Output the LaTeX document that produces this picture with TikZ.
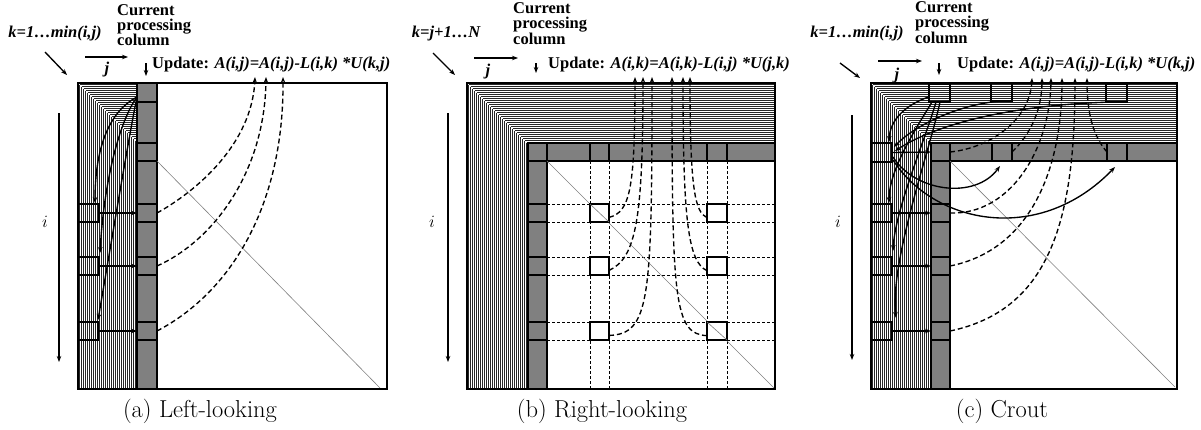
\documentclass[tikz,border=0pt]{standalone}
\usepackage{fontspec}
\newfontfamily\tnr{Liberation Serif}
\usetikzlibrary{arrows.meta}
\definecolor{cellgray}{RGB}{128,128,128}
\begin{document}
\begin{tikzpicture}[x=1pt,y=-1pt,
  hatch/.style={line width=0.6pt, black!85},
  frame/.style={draw, line width=1.8pt},
  gband/.style={fill=cellgray, draw, line width=1.2pt},
  cell/.style={draw, line width=1.2pt, inner sep=0pt, outer sep=0pt, anchor=north west},
  gcell/.style={cell, fill=cellgray},
  wcell/.style={cell, fill=white},
  diagl/.style={draw=gray, line width=0.6pt},
  arr/.style={-{Stealth[length=6pt,width=4.5pt]}, line width=1.35pt},
  darr/.style={arr, dash pattern=on 5pt off 3pt},
  gridl/.style={line width=0.6pt, dash pattern=on 3pt off 2pt},
  bilbl/.style={font=\tnr\bfseries\itshape\fontsize{16.5}{16}\selectfont, inner sep=0pt, anchor=base},
  blbl/.style={font=\tnr\bfseries\fontsize{16.5}{16}\selectfont, inner sep=0pt, anchor=base west},
  ilbl/.style={font=\fontsize{18}{18}\selectfont, inner sep=0pt},
  capt/.style={font=\fontsize{24.5}{26}\selectfont, inner sep=0pt, anchor=base},
]
\useasboundingbox (0,0) rectangle (1201,429);

%================ (a) Left-looking =================
\foreach \y in {84.5,86.5,...,141.5} \draw[hatch] ({78+\y-83},\y) -- (137,\y);
\foreach \x in {79.5,81.5,...,136.5} \draw[hatch] (\x,{83+\x-78}) -- (\x,389);
\draw[gband] (137,83) rectangle (157,389);
\node[gcell, minimum width=20pt, minimum height=19pt] (acol0) at (137,83) {};
\node[gcell, minimum width=20pt, minimum height=18pt] (acold) at (137,143) {};
\node[gcell, minimum width=20pt, minimum height=18pt] (acol1) at (137,204) {};
\node[gcell, minimum width=20pt, minimum height=18pt] (acol2) at (137,257) {};
\node[gcell, minimum width=20pt, minimum height=18pt] (acol3) at (137,322) {};
\node[cell, minimum width=21pt, minimum height=18pt] (al1) at (78,204) {};
\node[cell, minimum width=21pt, minimum height=18pt] (al2) at (78,257) {};
\node[cell, minimum width=20pt, minimum height=18pt] (al3) at (78,322) {};
\coordinate (aend) at (380,388);
\draw[diagl] (acold.south east) -- (aend);
\draw[frame] (78,83) rectangle (387,389);
% solid arrows
\coordinate (as) at (137,97);
\coordinate (at1) at (95,203);
\coordinate (at2) at (100,253);
\coordinate (at3) at (98,320);
\draw[arr] (as) .. controls (108,112) and (95,150) .. (at1);
\draw[arr] (as) .. controls (120,120) and (104,180) .. (at2);
\draw[arr] (as) .. controls (130,130) and (110,250) .. (at3);
\draw[arr] (al1.east) -- (acol1.west);
\draw[arr] (al2.east) -- (acol2.west);
\draw[arr] (al3.east) -- (acol3.west);
% dashed arrows
\coordinate (au1) at (255,77);
\coordinate (au2) at (266,77);
\coordinate (au3) at (283,77);
\draw[darr] (acol1.east) .. controls (195,192) and (252,145) .. (au1);
\draw[darr] (acol2.east) .. controls (215,240) and (265,170) .. (au2);
\draw[darr] (acol3.east) .. controls (235,290) and (284,200) .. (au3);
% labels
\node[bilbl] (ak) at (55,37) {k=1…min(i,j)};
\node[blbl] (acur1) at (117,15) {Current};
\node[blbl] (acur2) at (117,30) {processing};
\node[blbl] (acur3) at (117,45) {column};
\node[blbl] (aupd) at (152,68) {Update: \itshape A(i,j)=A(i,j)-L(i,k) *U(k,j)};
\coordinate (ad1) at (45,52); \coordinate (ad2) at (67,75);
\draw[arr] (ad1) -- (ad2);
\coordinate (aj1) at (85,57); \coordinate (aj2) at (128,57);
\draw[arr] (aj1) -- (aj2);
\node[bilbl] (ajl) at (107,73) {j};
\coordinate (av1) at (146,63); \coordinate (av2) at (146,76);
\draw[arr] (av1) -- (av2);
\coordinate (ai1) at (59,113); \coordinate (ai2) at (59,362);
\draw[arr] (ai1) -- (ai2);
\node[ilbl] (ail) at (45,222) {$i$};
\node[capt] (acap) at (200,417) {(a) Left-looking};

%================ (b) Right-looking =================
\foreach \y in {84.5,86.5,...,142.5} \draw[hatch] ({467+\y-83},\y) -- (775,\y);
\foreach \x in {468.5,470.5,...,527.5} \draw[hatch] (\x,{83+\x-467}) -- (\x,389);
\draw[gband] (528,143) rectangle (775,161);
\draw[gband] (528,143) rectangle (547,389);
\node[gcell, minimum width=19pt, minimum height=18pt] (bd) at (528,143) {};
\node[gcell, minimum width=19pt, minimum height=18pt] (br1) at (590,143) {};
\node[gcell, minimum width=20pt, minimum height=18pt] (br2) at (707,143) {};
\node[gcell, minimum width=19pt, minimum height=18pt] (bc1) at (528,204) {};
\node[gcell, minimum width=19pt, minimum height=18pt] (bc2) at (528,257) {};
\node[gcell, minimum width=19pt, minimum height=18pt] (bc3) at (528,322) {};
\foreach \x in {590,609,707,727} \draw[gridl] (\x,161) -- (\x,389);
\foreach \y in {204,222,257,275,322,340} \draw[gridl] (547,\y) -- (775,\y);
\coordinate (bend) at (775,389);
\draw[diagl] (bd.south east) -- (bend);
\node[wcell, minimum width=19pt, minimum height=18pt] (bw11) at (590,204) {};
\node[wcell, minimum width=20pt, minimum height=18pt] (bw12) at (707,204) {};
\node[wcell, minimum width=19pt, minimum height=18pt] (bw21) at (590,257) {};
\node[wcell, minimum width=20pt, minimum height=18pt] (bw22) at (707,257) {};
\node[wcell, minimum width=19pt, minimum height=18pt] (bw31) at (590,322) {};
\node[wcell, minimum width=20pt, minimum height=18pt] (bw32) at (707,322) {};
\draw[diagl] (bw11.north west) -- (bw11.south east);
\draw[diagl] (bw32.north west) -- (bw32.south east);
\draw[frame] (467,83) rectangle (775,389);
\coordinate (bu1) at (635,77);
\coordinate (bu2) at (643,77);
\coordinate (bu3) at (652,77);
\coordinate (bu4) at (672,77);
\coordinate (bu5) at (683,77);
\coordinate (bu6) at (690,77);
\draw[darr] (bw11.-25) .. controls (630,212) and (635,190) .. (bu1);
\draw[darr] (bw21.-25) .. controls (636,258) and (643,220) .. (bu2);
\draw[darr] (bw31.-25) .. controls (650,334) and (652,300) .. (bu3);
\draw[darr] (bw12.205) .. controls (695,212) and (690,190) .. (bu6);
\draw[darr] (bw22.205) .. controls (688,262) and (683,220) .. (bu5);
\draw[darr] (bw32.205) .. controls (674,334) and (672,300) .. (bu4);
\node[bilbl] (bk) at (446,37) {k=j+1…N};
\node[blbl] (bcur1) at (513,13) {Current};
\node[blbl] (bcur2) at (513,28) {processing};
\node[blbl] (bcur3) at (513,44) {column};
\node[blbl] (bupd) at (548,68) {Update: \itshape A(i,k)=A(i,k)-L(i,j) *U(j,k)};
\coordinate (bd1) at (433,53); \coordinate (bd2) at (455,75);
\draw[arr] (bd1) -- (bd2);
\coordinate (bj1) at (474,58); \coordinate (bj2) at (518,58);
\draw[arr] (bj1) -- (bj2);
\node[bilbl] (bjl) at (488,75) {j};
\coordinate (bv1) at (536,63); \coordinate (bv2) at (536,73);
\draw[arr] (bv1) -- (bv2);
\coordinate (bi1) at (448,113); \coordinate (bi2) at (448,362);
\draw[arr] (bi1) -- (bi2);
\node[ilbl] (bil) at (432,222) {$i$};
\node[capt] (bcap) at (602,417) {(b) Right-looking};

%================ (c) Crout =================
\foreach \y in {84.5,86.5,...,142.5} \draw[hatch] ({871+\y-83},\y) -- (1177,\y);
\foreach \x in {872.5,874.5,...,930.5} \draw[hatch] (\x,{83+\x-871}) -- (\x,389);
\draw[gband] (931,143) rectangle (1177,161);
\draw[gband] (931,143) rectangle (950,389);
\node[gcell, minimum width=19pt, minimum height=18pt] (cd) at (931,143) {};
\node[gcell, minimum width=20pt, minimum height=18pt] (cr1) at (992,143) {};
\node[gcell, minimum width=20pt, minimum height=18pt] (cr2) at (1107,143) {};
\node[gcell, minimum width=19pt, minimum height=18pt] (cc1) at (931,204) {};
\node[gcell, minimum width=19pt, minimum height=18pt] (cc2) at (931,257) {};
\node[gcell, minimum width=19pt, minimum height=18pt] (cc3) at (931,322) {};
\node[cell, minimum width=21pt, minimum height=18pt] (ct0) at (929,84) {};
\node[cell, minimum width=21pt, minimum height=18pt] (ct1) at (991,83) {};
\node[cell, minimum width=21pt, minimum height=18pt] (ct2) at (1106,84) {};
\node[cell, minimum width=21pt, minimum height=19pt] (cl0) at (871,143) {};
\node[cell, minimum width=21pt, minimum height=18pt] (cl1) at (871,204) {};
\node[cell, minimum width=21pt, minimum height=18pt] (cl2) at (871,257) {};
\node[cell, minimum width=21pt, minimum height=18pt] (cl3) at (871,322) {};
\coordinate (cend) at (1175,387);
\draw[diagl] (cd.south east) -- (cend);
\draw[frame] (871,83) rectangle (1177,389);
% solid arrows
\coordinate (cn0) at (889,142);
\draw[arr] (ct0.200) .. controls (905,105) and (890,120) .. (cn0);
\coordinate (cs1) at (932,102); \coordinate (ce1) at (889,203);
\coordinate (cs2) at (936,102); \coordinate (ce2) at (893,251);
\coordinate (cs3) at (940,102); \coordinate (ce3) at (896,318);
\draw[arr] (cs1) .. controls (915,130) and (889,170) .. (ce1);
\draw[arr] (cs2) .. controls (925,140) and (895,210) .. (ce2);
\draw[arr] (cs3) .. controls (930,150) and (890,260) .. (ce3);
\coordinate (cm1) at (894,147); \coordinate (cm2) at (895,151);
\coordinate (cb2) at (1113,102);
\draw[arr] (ct1.south) .. controls (960,104) and (915,125) .. (cm1);
\draw[arr] (cb2) .. controls (1000,105) and (930,128) .. (cm2);
\draw[arr] (cl0.east) -- (cd.west);
\coordinate (co0) at (893,157); \coordinate (co1) at (1000,166);
\coordinate (co2) at (893,160); \coordinate (co3) at (1115,167);
\draw[arr] (co0) .. controls (915,192) and (975,200) .. (co1);
\draw[arr] (co2) .. controls (935,225) and (1040,245) .. (co3);
\draw[arr] (cl1.east) -- (cc1.west);
\draw[arr] (cl2.east) -- (cc2.west);
\draw[arr] (cl3.east) -- (cc3.west);
% dashed arrows
\coordinate (cu1) at (1032,78);
\coordinate (cu2) at (1042,78);
\coordinate (cu3) at (1051,78);
\coordinate (cu4) at (1062,78);
\coordinate (cu5) at (1075,78);
\coordinate (cu6) at (1087,78);
\draw[darr] (cd.east) .. controls (990,148) and (1030,120) .. (cu1);
\draw[darr] (cr1.east) .. controls (1030,135) and (1042,110) .. (cu2);
\draw[darr] (cr2.west) .. controls (1092,135) and (1087,110) .. (cu6);
\draw[darr] (cc1.east) .. controls (1010,215) and (1050,150) .. (cu3);
\draw[darr] (cc2.east) .. controls (1030,250) and (1062,170) .. (cu4);
\draw[darr] (cc3.east) .. controls (1050,310) and (1075,220) .. (cu5);
% labels
\node[bilbl] (ck) at (857,37) {k=1…min(i,j)};
\node[blbl] (ccur1) at (915,12) {Current};
\node[blbl] (ccur2) at (915,27) {processing};
\node[blbl] (ccur3) at (915,43) {column};
\node[blbl] (cupd) at (957,68) {Update: \itshape A(i,j)=A(i,j)-L(i,k) *U(k,j)};
\coordinate (cd1) at (840,63); \coordinate (cd2) at (860,78);
\draw[arr] (cd1) -- (cd2);
\coordinate (cj1) at (878,61); \coordinate (cj2) at (922,61);
\draw[arr] (cj1) -- (cj2);
\node[bilbl] (cjl) at (897,79) {j};
\coordinate (cv1) at (939,63); \coordinate (cv2) at (939,75);
\draw[arr] (cv1) -- (cv2);
\coordinate (ci1) at (852,115); \coordinate (ci2) at (852,360);
\draw[arr] (ci1) -- (ci2);
\node[ilbl] (cil) at (838,222) {$i$};
\node[capt] (ccap) at (1002,417) {(c) Crout};
\end{tikzpicture}
\end{document}
